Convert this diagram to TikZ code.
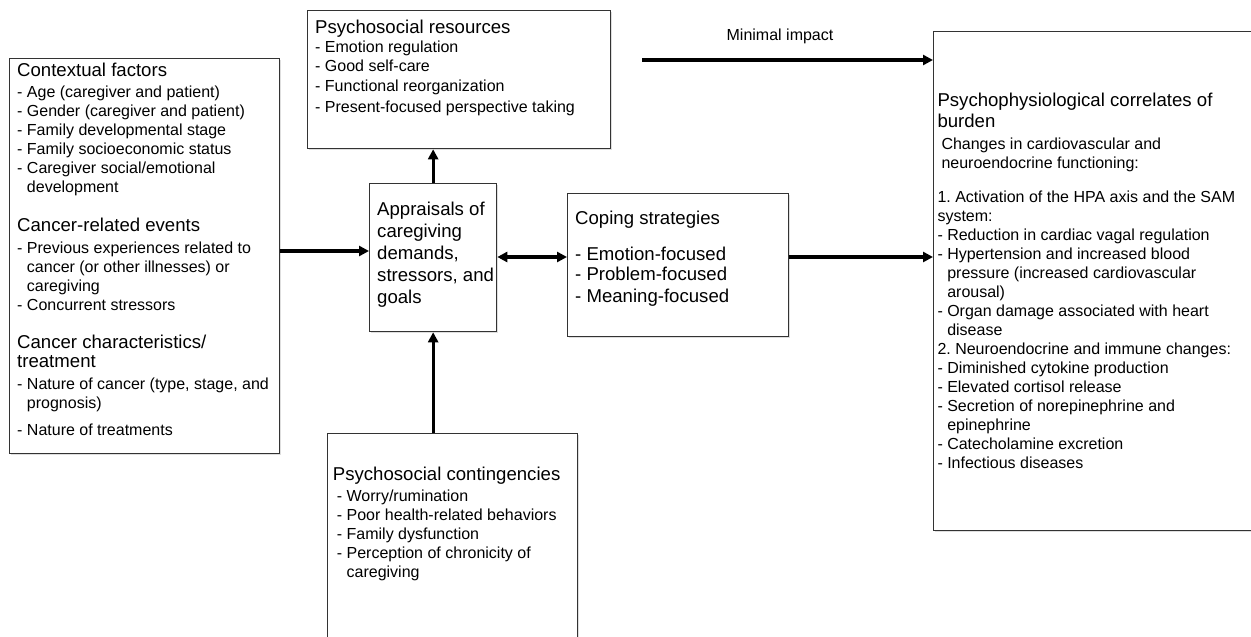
\documentclass[tikz,border=0pt]{standalone}
\usepackage{fontspec}
\setmainfont{Liberation Sans}
\usetikzlibrary{arrows.meta,shadows}
\newcommand\hd[1]{{\fontsize{18.6}{19}\selectfont #1}}
\newcommand\ind{\hphantom{- }}
\frenchspacing
\begin{document}
\begin{tikzpicture}[x=1pt,y=-1pt,
  box/.style={draw=black!80, line width=1.3pt, fill=white, inner sep=0pt, anchor=north west,
    drop shadow={shadow xshift=1.2pt, shadow yshift=-1.5pt, fill=black!25, opacity=0.5}},
  txt/.style={anchor=north west, inner sep=0pt, align=left, font=\fontsize{16}{19}\selectfont},
  bigtxt/.style={anchor=north west, inner sep=0pt, align=left, font=\fontsize{18.6}{22}\selectfont},
  arr/.style={line width=3.3pt, -{Triangle[length=10pt,width=10pt]}},
  darr/.style={line width=3.3pt, {Triangle[length=10pt,width=10pt]}-{Triangle[length=10pt,width=10pt]}},
]
\path[use as bounding box, fill=white] (0,0) rectangle (1251,637);

% boxes
\node[box, minimum width=270pt, minimum height=395pt] (ctx) at (9,58) {};
\node[box, minimum width=303pt, minimum height=138pt] (res) at (307,10) {};
\node[box, minimum width=127pt, minimum height=148pt] (app) at (369,183) {};
\node[box, minimum width=221pt, minimum height=143pt] (cop) at (567,193) {};
\node[box, minimum width=250pt, minimum height=220pt] (cont) at (327,433) {};
\node[box, minimum width=330pt, minimum height=499pt] (psy) at (933,31) {};

% texts
\node[txt] (ctxt) at (17,63.1) {\hd{Contextual factors}\\[2pt]
- Age (caregiver and patient)\\
- Gender (caregiver and patient)\\
- Family developmental stage\\
- Family socioeconomic status\\
- Caregiver social/emotional\\
\ind development\\[20pt]
\hd{Cancer-related events}\\[3pt]
- Previous experiences related to\\
\ind cancer (or other illnesses) or\\
\ind caregiving\\
- Concurrent stressors\\[19pt]
\hd{Cancer characteristics/}\\
\hd{treatment}\\[3pt]
- Nature of cancer (type, stage, and\\
\ind prognosis)\\[8pt]
- Nature of treatments};

\node[txt] (rest) at (315,19.8) {\hd{Psychosocial resources}\\
- Emotion regulation\\
- Good self-care\\[1pt]
- Functional reorganization\\[2pt]
- Present-focused perspective taking};

\node[bigtxt] (appt) at (377,202.1) {Appraisals of\\ caregiving\\ demands,\\ stressors, and\\ goals};

\node[bigtxt, font=\fontsize{18.6}{21}\selectfont] (copt) at (575,211.1) {Coping strategies\\[15pt]
- Emotion-focused\\[-1pt]
- Problem-focused\\[1pt]
- Meaning-focused};

\node[txt] (contt) at (332.7,466.4) {\hd{Psychosocial contingencies}\\[2pt]
\hspace*{4pt}- Worry/rumination\\
\hspace*{4pt}- Poor health-related behaviors\\
\hspace*{4pt}- Family dysfunction\\
\hspace*{4pt}- Perception of chronicity of\\
\hspace*{4pt}\ind caregiving};

\node[txt] (psyt) at (937.3,92.4) {\hd{Psychophysiological correlates of}\\[2pt]
\hd{burden}\\[3pt]
\hspace*{4pt}Changes in cardiovascular and\\
\hspace*{4pt}neuroendocrine functioning:\\[15pt]
1. Activation of the HPA axis and the SAM\\
system:\\
- Reduction in cardiac vagal regulation\\
- Hypertension and increased blood\\
\ind pressure (increased cardiovascular\\
\ind arousal)\\
- Organ damage associated with heart\\
\ind disease\\
2. Neuroendocrine and immune changes:\\
- Diminished cytokine production\\
- Elevated cortisol release\\
- Secretion of norepinephrine and\\
\ind epinephrine\\
- Catecholamine excretion\\
- Infectious diseases};

% connectors
\coordinate (ya) at (0,251);
\coordinate (yb) at (0,257);
\coordinate (mi) at (642,60);
\draw[arr] (ctx.east |- ya) -- (app.west |- ya);
\draw[arr] (app.north) -- (app.north |- res.south);
\draw[arr] (cont.north -| app.south) -- (app.south);
\draw[darr] (app.east |- yb) -- (cop.west |- yb);
\draw[arr] (cop.east |- yb) -- (psy.west |- yb);
\draw[arr] (mi) -- (psy.west |- mi);
\node[anchor=base, inner sep=0pt, font=\fontsize{16}{19}\selectfont] (milab) at (780,40) {Minimal impact};
\end{tikzpicture}
\end{document}
